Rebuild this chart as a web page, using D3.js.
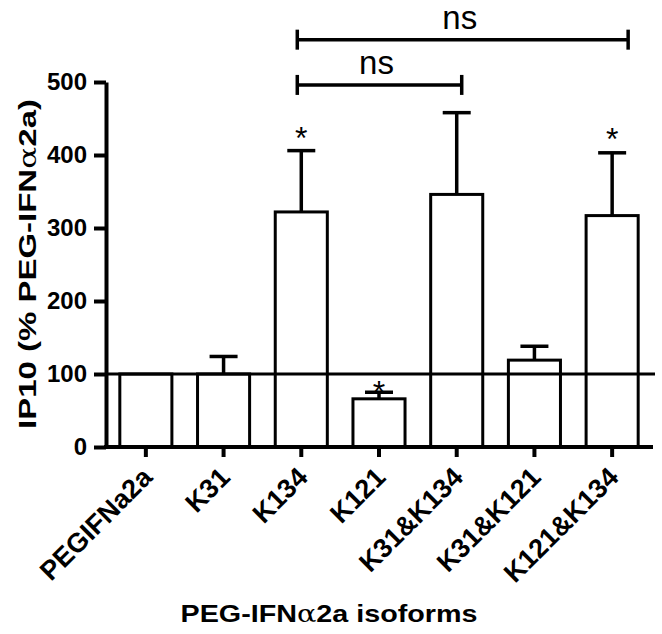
<!DOCTYPE html>
<html>
<head>
<meta charset="utf-8">
<script src="https://cdn.jsdelivr.net/npm/d3@7"></script>
<style>
  html, body { margin: 0; padding: 0; background: #fff; }
  svg { display: block; }
  text { font-family: "Liberation Sans", Arial, Helvetica, sans-serif; fill: #000; }
</style>
</head>
<body>
<div id="chart"></div>
<script>
// ---- data ----
const categories = ["PEGIFNa2a", "K31", "K134", "K121", "K31&K134", "K31&K121", "K121&K134"];
const means = [100, 100, 322, 66, 346, 119, 317];
const errors = [0, 24, 84, 9, 112, 19, 86];
const yTicks = [0, 100, 200, 300, 400, 500];
const starCategories = ["K134", "K121", "K121&K134"];
const starLevels = [435, 88, 434];
const bracketFrom = ["K134", "K134"];
const bracketTo = ["K121&K134", "K31&K134"];
const bracketLevels = [558, 496];
const bracketLabels = ["ns", "ns"];
const referenceValue = 100;

const W = 662, H = 634;
const x0 = 106, x1 = 651, yTop = 82, yBottom = 447;

const svg = d3.select("#chart").append("svg").attr("width", W).attr("height", H);

const x = d3.scaleBand().domain(categories).range([x0 + 1, x1]).paddingInner(0.33).paddingOuter(0.165);
const y = d3.scaleLinear().domain([0, 500]).range([yBottom, yTop]);

const data = categories.map((c, i) => ({ c, m: means[i], e: errors[i] }));

// bars
svg.append("g").selectAll("rect").data(data).join("rect")
  .attr("x", d => x(d.c))
  .attr("y", d => y(d.m))
  .attr("width", x.bandwidth())
  .attr("height", d => y(0) - y(d.m))
  .attr("fill", "#fff").attr("stroke", "#000").attr("stroke-width", 3);

// error bars (upper only)
const eg = svg.append("g").attr("stroke", "#000").attr("stroke-width", 3.5);
data.filter(d => d.e > 0).forEach(d => {
  const cx = x(d.c) + x.bandwidth() / 2;
  eg.append("line").attr("x1", cx).attr("x2", cx).attr("y1", y(d.m)).attr("y2", y(d.m + d.e));
  eg.append("line").attr("x1", cx - 14).attr("x2", cx + 14).attr("y1", y(d.m + d.e)).attr("y2", y(d.m + d.e));
});

// reference line at 100
svg.append("line").attr("x1", x0).attr("x2", 655)
  .attr("y1", y(referenceValue)).attr("y2", y(referenceValue))
  .attr("stroke", "#000").attr("stroke-width", 3);

// y axis
const yAxis = svg.append("g").attr("transform", `translate(${x0},0)`)
  .call(d3.axisLeft(y).tickValues(yTicks).tickSize(12).tickPadding(7).tickSizeOuter(0));
yAxis.select(".domain").attr("stroke", "#000").attr("stroke-width", 4);
yAxis.selectAll(".tick line").attr("stroke", "#000").attr("stroke-width", 4);
yAxis.selectAll(".tick text").style("font-size", "24px").style("font-weight", "bold")
  .style("font-family", '"Liberation Sans", Arial, sans-serif');

// x axis
const xAxis = svg.append("g").attr("transform", `translate(0,${yBottom})`)
  .call(d3.axisBottom(x).tickSize(10).tickSizeOuter(0).tickFormat(""));
xAxis.select(".domain").attr("d", `M${x0 - 2},0H653`).attr("stroke", "#000").attr("stroke-width", 4);
xAxis.selectAll(".tick line").attr("stroke", "#000").attr("stroke-width", 4);
xAxis.selectAll(".tick").append("text")
  .attr("transform", "translate(8,32) rotate(-45)")
  .attr("text-anchor", "end")
  .style("font-size", "27px").style("font-weight", "bold")
  .style("font-family", '"Liberation Sans", Arial, sans-serif')
  .attr("fill", "#000")
  .text(d => d);

// asterisks
svg.append("g").selectAll("text").data(starCategories).join("text")
  .attr("x", (c) => x(c) + x.bandwidth() / 2)
  .attr("y", (c, i) => y(starLevels[i]))
  .attr("text-anchor", "middle").attr("dominant-baseline", "central")
  .attr("dy", "0.28em")
  .style("font-size", "32px")
  .text("*");

// significance brackets
const bracketEndShift = [[-4, 16], [-4, 5]];
const bg = svg.append("g");
bracketLevels.forEach((lv, i) => {
  const xa = x(bracketFrom[i]) + x.bandwidth() / 2 + bracketEndShift[i][0];
  const xb = x(bracketTo[i]) + x.bandwidth() / 2 + bracketEndShift[i][1];
  const yy = y(lv);
  bg.append("line").attr("x1", xa).attr("x2", xb).attr("y1", yy).attr("y2", yy)
    .attr("stroke", "#000").attr("stroke-width", 3.5);
  [xa, xb].forEach(xx => bg.append("line").attr("x1", xx).attr("x2", xx)
    .attr("y1", yy - 10).attr("y2", yy + 10).attr("stroke", "#000").attr("stroke-width", 3.5));
  bg.append("text").attr("x", (xa + xb) / 2 - 3).attr("y", yy - 11)
    .attr("text-anchor", "middle").style("font-size", "33px").text(bracketLabels[i]);
});

// axis titles
const yl = svg.append("text")
  .attr("transform", `translate(36,264) rotate(-90)`)
  .attr("text-anchor", "middle")
  .attr("textLength", 330).attr("lengthAdjust", "spacingAndGlyphs")
  .style("font-size", "24px").style("font-weight", "bold");
yl.append("tspan").text("IP10 (% PEG-IFN");
yl.append("tspan").style("font-family", '"DejaVu Serif", "Liberation Serif", serif').style("font-weight", "normal").text("α");
yl.append("tspan").text("2a)");

const xl = svg.append("text")
  .attr("x", 329).attr("y", 622)
  .attr("text-anchor", "middle")
  .attr("textLength", 297).attr("lengthAdjust", "spacingAndGlyphs")
  .style("font-size", "24px").style("font-weight", "bold");
xl.append("tspan").text("PEG-IFN");
xl.append("tspan").style("font-family", '"DejaVu Serif", "Liberation Serif", serif').style("font-weight", "normal").text("α");
xl.append("tspan").text("2a isoforms");
</script>
</body>
</html>
